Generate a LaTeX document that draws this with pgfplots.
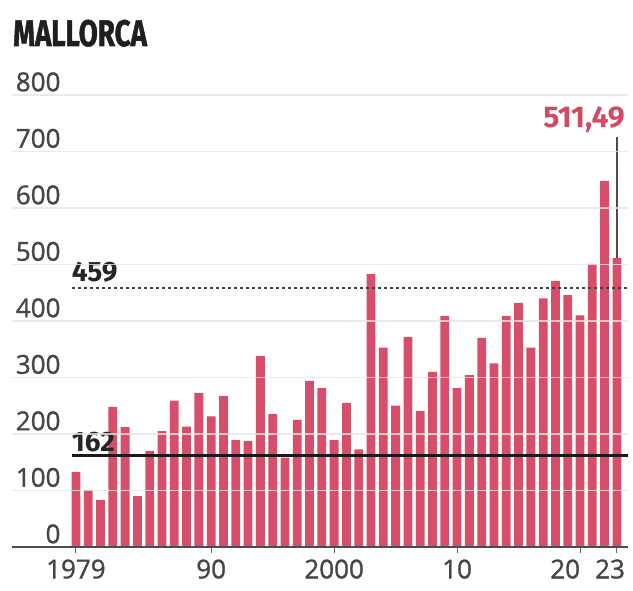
\documentclass[border=0pt]{standalone}
\usepackage{pgfplots}
\pgfplotsset{compat=1.18}
\usepackage{fontspec}
\setmainfont{Fira Sans}
\newfontfamily\tickfont{Open Sans}[FakeBold=1.2]
\newfontfamily\titlefont{Fira Sans}[FakeBold=1.5]
\definecolor{barred}{RGB}{214,78,106}
\definecolor{labred}{RGB}{210,74,100}
\definecolor{ticktext}{RGB}{70,70,70}
\begin{document}
\begin{tikzpicture}[x=1pt,y=1pt]
\useasboundingbox (0,0) rectangle (633,591);
\node[anchor=base west, inner sep=0, font=\titlefont\bfseries\fontsize{37}{37}\selectfont, text=black!88] at (13,545) {\scalebox{0.75}[1]{MALLORCA}};
\begin{axis}[
  at={(12pt,44pt)}, anchor=south west,
  scale only axis, width=616pt, height=452pt,
  xmin=1973.8, xmax=2023.9, ymin=0, ymax=800,
  clip=false, axis on top,
  axis x line*=bottom, axis y line*=left,
  x axis line style={-, draw=black!70, line width=1.6pt},
  y axis line style={draw=none},
  ytick={0,100,...,800},
  ymajorgrids, grid style={draw=black!10, line width=1.1pt, opacity=0.8},
  ytick style={draw=none},
  yticklabel style={anchor=south east, xshift=58pt, yshift=0pt, font=\tickfont\fontsize{26}{26}\selectfont, text=ticktext},
  xtick={1979,1990,2000,2010,2020,2023},
  xticklabels={1979,90,2000,10,\makebox[0pt][r]{20},\makebox[0pt][r]{23\kern-8pt}},
  xticklabel style={font=\tickfont\fontsize{26}{26}\selectfont, text=ticktext, yshift=-3pt},
  tick align=outside, major tick length=6pt,
  xtick style={draw=black!60, line width=1pt},
  /pgf/number format/assume math mode=true,
  /pgf/number format/1000 sep={},
]
\addplot[ybar, bar width=8.8pt, fill=barred, draw=none] coordinates {
(1979,133) (1980,101) (1981,83) (1982,248) (1983,212) (1984,90) (1985,170)
(1986,205) (1987,259) (1988,213) (1989,273) (1990,231) (1991,267) (1992,189)
(1993,188) (1994,338) (1995,235) (1996,158) (1997,225) (1998,294) (1999,281)
(2000,189) (2001,255) (2002,173) (2003,483) (2004,353) (2005,250) (2006,372)
(2007,241) (2008,310) (2009,409) (2010,281) (2011,304) (2012,370) (2013,325)
(2014,409) (2015,432) (2016,353) (2017,440) (2018,471) (2019,446) (2020,410)
(2021,501) (2022,648) (2023,511.49)
};
\addplot[sharp plot, no marks, black!90, line width=2.2pt] coordinates {(1978.65,162) (2023.9,162)};
\addplot[sharp plot, no marks, black!75, line width=2.2pt, dash pattern=on 3pt off 3pt] coordinates {(1978.65,459) (2023.9,459)};
\addplot[sharp plot, no marks, black!70, line width=1.2pt] coordinates {(2023,511.49) (2023,725)};
\node[anchor=south west, inner sep=0, font=\bfseries\fontsize{28}{28}\selectfont, text=black!85] at (axis cs:1978.65,469) {459};
\node[anchor=south west, inner sep=0, font=\bfseries\fontsize{28}{28}\selectfont, text=black!85] at (axis cs:1978.65,168) {162};
\node[anchor=base east, inner sep=0, font=\bfseries\fontsize{30}{30}\selectfont, text=labred] at (axis cs:2023.65,743) {511,49};
\end{axis}
\end{tikzpicture}
\end{document}
